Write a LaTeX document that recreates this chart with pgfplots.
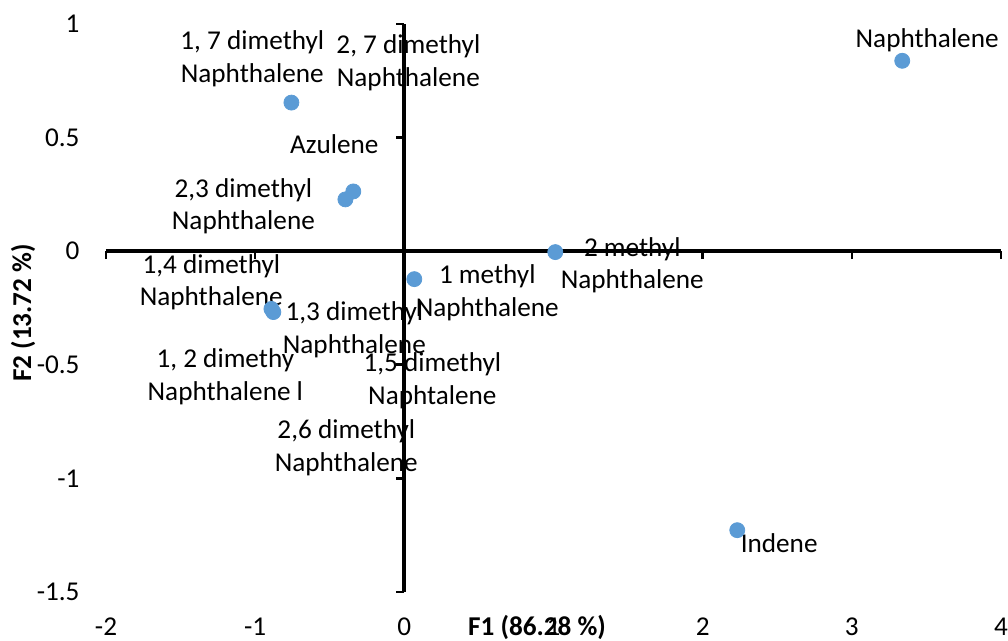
\documentclass[border=0pt]{standalone}
\usepackage{pgfplots}
\pgfplotsset{compat=1.18}
\usepackage{fontspec}
\setmainfont{Carlito}
\definecolor{ptblue}{HTML}{5B9BD5}
\begin{document}
\fontsize{13.6}{16.3}\selectfont
\begin{tikzpicture}
% axis lines crossing at the origin
\begin{axis}[
  at={(0,0)}, anchor=south west,
  scale only axis, width=447.5pt, height=284pt,
  xmin=-2, xmax=4, ymin=-1.5, ymax=1,
  axis lines=middle,
  axis line style={-, line width=2pt, black},
  xtick={-2,-1,1,2,3,4}, ytick={-1.5,-1,-0.5,0.5,1},
  xticklabels={}, yticklabels={},
  tick align=outside, major tick length=4pt,
  tick style={line width=1.3pt, black},
]
\end{axis}
% labels and data
\begin{axis}[
  at={(0,0)}, anchor=south west,
  scale only axis, width=447.5pt, height=284pt,
  xmin=-2, xmax=4, ymin=-1.5, ymax=1,
  axis line style={draw=none},
  tick style={draw=none},
  xtick={-2,-1,0,1,2,3,4},
  xticklabels={-2,-1,0,1,2,3,4},
  ytick={-1.5,-1,-0.5,0,0.5,1},
  yticklabels={-1.5,-1,-0.5,0,0.5,1},
  xticklabel style={yshift=-8.4pt},
  yticklabel style={xshift=-8.5pt},
  clip=false,
]
\addplot[only marks, mark=*, mark size=3.75pt, mark options={fill=ptblue, draw=ptblue}]
coordinates {
  (3.338, 0.838)
  (-0.757, 0.654)
  (-0.342, 0.263)
  (-0.395, 0.228)
  (1.012, -0.004)
  (0.067, -0.123)
  (-0.891, -0.254)
  (-0.878, -0.268)
  (2.232, -1.228)
};
\begin{scope}[every node/.style={align=center, inner sep=0pt}]
\node at (axis cs:-1.019, 0.846) {1, 7 dimethyl\\Naphthalene};
\node at (axis cs:0.027, 0.829) {2, 7 dimethyl\\Naphthalene};
\node at (axis cs:-0.469, 0.469) {Azulene};
\node at (axis cs:-1.079, 0.197) {2,3 dimethyl\\Naphthalene};
\node at (axis cs:-1.294, -0.136) {1,4 dimethyl\\Naphthalene};
\node at (axis cs:-0.335, -0.346) {1,3 dimethyl\\Naphthalene};
\node at (axis cs:0.556, -0.184) {1 methyl\\Naphthalene};
\node at (axis cs:1.528, -0.061) {2 methyl\\Naphthalene};
\node at (axis cs:3.505, 0.930) {Naphthalene};
\node at (axis cs:-1.200, -0.553) {1, 2 dimethy\\Naphthalene l};
\node at (axis cs:0.188, -0.570) {1,5 dimethyl\\Naphtalene};
\node at (axis cs:-0.389, -0.864) {2,6 dimethyl\\Naphthalene};
\node at (axis cs:2.513, -1.285) {Indene};
\end{scope}
\end{axis}
\node[font=\bfseries, inner sep=0pt] at (215.5pt,-17.5pt) {F1 (86.28 \%)};
\node[font=\bfseries, inner sep=0pt, rotate=90] at (-41.5pt,139.5pt) {F2 (13.72 \%)};
\pgfresetboundingbox
\path (-53pt,-24.5pt) rectangle (451pt,296pt);
\end{tikzpicture}
\end{document}
